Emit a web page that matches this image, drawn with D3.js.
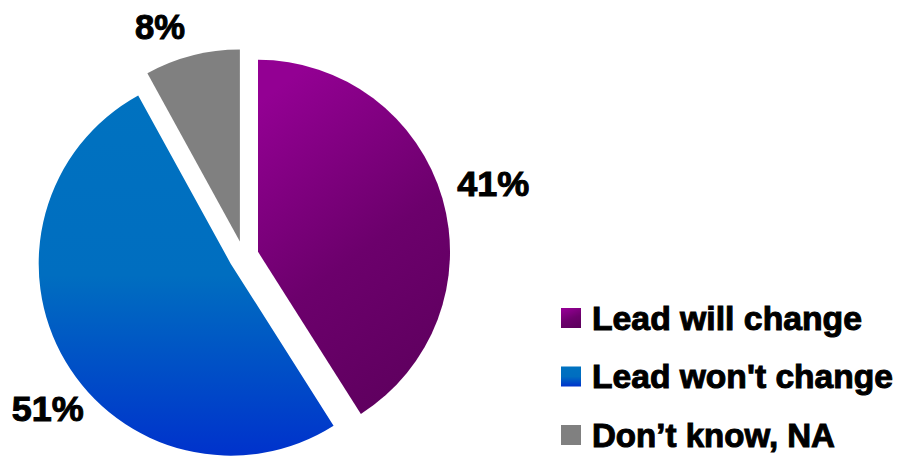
<!DOCTYPE html>
<html><head><meta charset="utf-8">
<script src="https://cdn.jsdelivr.net/npm/d3@7"></script>
<style>html,body{margin:0;padding:0;background:#fff;overflow:hidden}</style>
</head><body>
<svg id="chart" width="898" height="458"></svg>
<script>
const categories = ["Lead will change", "Lead won't change", "Don\u2019t know, NA"];
const values = [41, 51, 8];
const valueLabels = ["41%", "51%", "8%"];
const legendLabels = ["Lead will change", "Lead won't change", "Don\u2019t know, NA"];

const svg = d3.select("#chart");
const cx = 243.6, cy = 256, R = 192, explode = 15;
const FONT = "Liberation Sans, Arial, sans-serif";

const defs = svg.append("defs");
const g1 = defs.append("linearGradient").attr("id","gPurple").attr("x1","0.3").attr("y1","0").attr("x2","0.7").attr("y2","1");
g1.append("stop").attr("offset","0").attr("stop-color","#930093");
g1.append("stop").attr("offset","0.55").attr("stop-color","#6c006c");
g1.append("stop").attr("offset","1").attr("stop-color","#5e005e");
const g2 = defs.append("linearGradient").attr("id","gBlue").attr("x1","0").attr("y1","0").attr("x2","0").attr("y2","1");
g2.append("stop").attr("offset","0").attr("stop-color","#0072c0");
g2.append("stop").attr("offset","0.5").attr("stop-color","#006ec0");
g2.append("stop").attr("offset","1").attr("stop-color","#0032cc");
const fills = ["url(#gPurple)", "url(#gBlue)", "#808080"];

const pie = d3.pie().sort(null).value(d => d)(values);
const arc = d3.arc().innerRadius(0).outerRadius(R);

const g = svg.append("g").attr("transform", `translate(${cx},${cy})`);
const labelR = R + 53;
const nudges = [[0,0],[28,20],[-19,22]];

pie.forEach((p, i) => {
  const mid = (p.startAngle + p.endAngle) / 2;
  const dx = Math.sin(mid), dy = -Math.cos(mid);
  const ox = dx * explode, oy = dy * explode;
  g.append("path")
    .attr("d", arc(p))
    .attr("transform", `translate(${ox},${oy})`)
    .attr("fill", fills[i]);
  const lx = ox + dx * labelR + nudges[i][0];
  const ly = oy + dy * labelR + nudges[i][1];
  g.append("text")
    .attr("x", lx).attr("y", ly + 12.5)
    .attr("text-anchor", "middle")
    .attr("font-family", FONT)
    .attr("font-weight", "bold")
    .attr("font-size", 35)
    .attr("fill", "#000").attr("stroke", "#000").attr("stroke-width", 1)
    .attr("textLength", valueLabels[i].length === 3 ? 72 : 50)
    .attr("lengthAdjust", "spacingAndGlyphs")
    .text(valueLabels[i]);
});

// legend
const legendLengths = [270, 301, 243];
const lg = svg.append("g").attr("transform", "translate(561,308)");
legendLabels.forEach((t, i) => {
  const row = lg.append("g").attr("transform", `translate(0,${i * 58.5})`);
  row.append("rect").attr("x", 0).attr("y", 0).attr("width", 20).attr("height", 20).attr("fill", fills[i]);
  row.append("text")
    .attr("x", 31).attr("y", 21.5)
    .attr("font-family", FONT)
    .attr("font-weight", "bold")
    .attr("font-size", 33)
    .attr("fill", "#000").attr("stroke", "#000").attr("stroke-width", 1)
    .attr("textLength", legendLengths[i])
    .attr("lengthAdjust", "spacingAndGlyphs")
    .text(t);
});
</script>
</body></html>
